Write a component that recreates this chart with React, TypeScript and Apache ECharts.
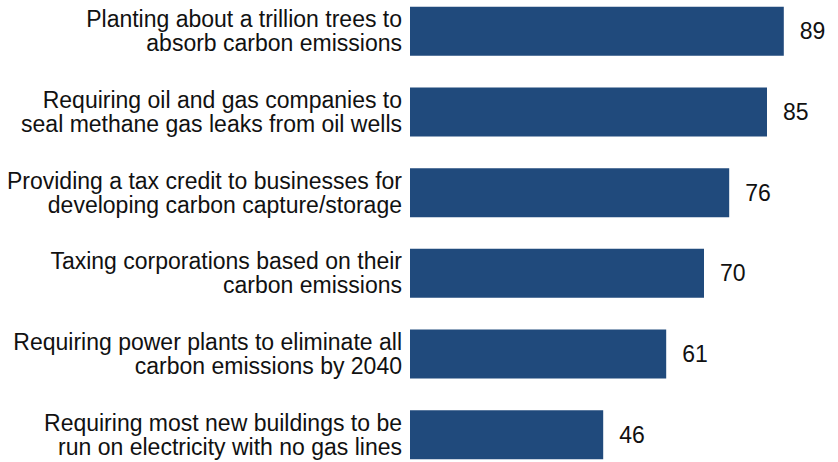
import React, { useEffect, useRef } from "react";
import * as echarts from "echarts";

const categories: string[] = [
  "Planting about a trillion trees to\nabsorb carbon emissions",
  "Requiring oil and gas companies to\nseal methane gas leaks from oil wells",
  "Providing a tax credit to businesses for\ndeveloping carbon capture/storage",
  "Taxing corporations based on their\ncarbon emissions",
  "Requiring power plants to eliminate all\ncarbon emissions by 2040",
  "Requiring most new buildings to be\nrun on electricity with no gas lines",
];
const values: number[] = [89, 85, 76, 70, 61, 46];

export default function App() {
  const ref = useRef<HTMLDivElement>(null);
  useEffect(() => {
    if (!ref.current) return;
    const chart = echarts.init(ref.current, undefined, { renderer: "svg" });
    chart.setOption({
      animation: false,
      grid: { left: 410, top: 0, width: 420, bottom: 0, containLabel: false },
      xAxis: {
        type: "value",
        min: 0,
        max: 100,
        show: false,
      },
      yAxis: {
        type: "category",
        inverse: true,
        data: categories,
        axisLine: { show: false },
        axisTick: { show: false },
        splitLine: { show: false },
        axisLabel: {
          margin: 8,
          align: "right",
          color: "#111",
          fontFamily: "Liberation Sans, Arial, sans-serif",
          fontSize: 23,
          lineHeight: 24,
        },
      },
      series: [
        {
          type: "bar",
          data: values,
          barWidth: 49,
          itemStyle: { color: "#204a7c" },
          label: {
            show: true,
            position: "right",
            distance: 16,
            color: "#111",
            fontFamily: "Liberation Sans, Arial, sans-serif",
            fontSize: 23,
          },
        },
      ],
    });
    return () => chart.dispose();
  }, []);
  return (
    <div
      style={{
        position: "fixed",
        left: 0,
        top: 0,
        width: 838,
        height: 462,
        overflow: "hidden",
        background: "#fff",
      }}
    >
      <div
        ref={ref}
        style={{ position: "absolute", left: 0, top: -9, width: 838, height: 484 }}
      />
    </div>
  );
}
